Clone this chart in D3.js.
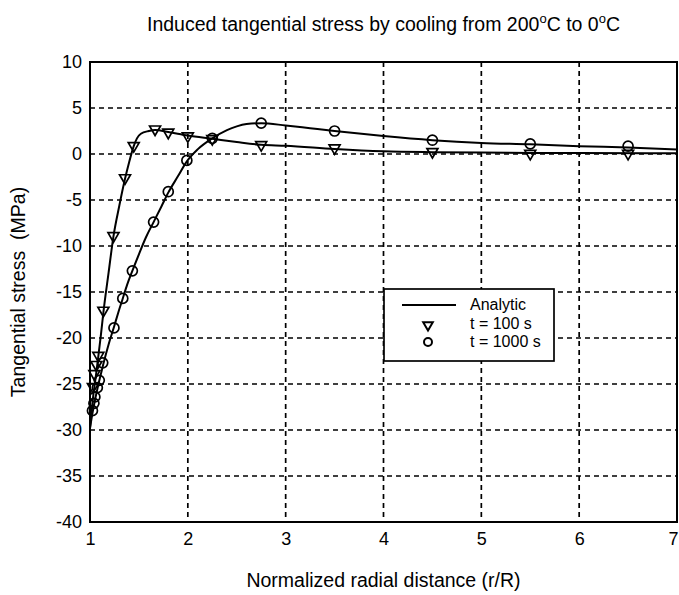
<!DOCTYPE html>
<html>
<head>
<meta charset="utf-8">
<script src="https://cdn.jsdelivr.net/npm/d3@7"></script>
<style>
  body { margin: 0; background: #fff; }
  svg text { font-family: "Liberation Sans", Arial, sans-serif; fill: #000; }
</style>
</head>
<body>
<div id="chart"></div>
<script>
// tick values
var x_ticks = [1, 2, 3, 4, 5, 6, 7];
var y_ticks = [10, 5, 0, -5, -10, -15, -20, -25, -30, -35, -40];

// analytic curves [r/R, MPa]
var analytic_100 = [
  [1.0, -29.8], [1.03, -26.6], [1.058, -24.3], [1.085, -22.0], [1.11, -19.8],
  [1.137, -17.2], [1.19, -12.9], [1.239, -9.0], [1.3, -5.6], [1.358, -2.7],
  [1.40, -0.9], [1.447, 0.85], [1.48, 1.7], [1.52, 2.2], [1.6, 2.5],
  [1.665, 2.62], [1.8, 2.4], [2.0, 2.0], [2.25, 1.65], [2.5, 1.3],
  [2.75, 1.0], [3.0, 0.9], [3.5, 0.55], [4.0, 0.3], [4.5, 0.2],
  [5.0, 0.15], [5.5, 0.12], [6.0, 0.1], [7.0, 0.08]
];
var analytic_1000 = [
  [1.0, -29.8], [1.025, -28.2], [1.05, -26.8], [1.078, -25.4], [1.1, -24.4],
  [1.137, -22.8], [1.19, -20.7], [1.245, -18.8], [1.29, -17.2], [1.335, -15.7],
  [1.38, -14.2], [1.433, -12.7], [1.5, -10.9], [1.57, -9.1], [1.65, -7.4],
  [1.73, -5.7], [1.8, -4.2], [1.9, -2.4], [1.99, -0.8], [2.1, 0.5],
  [2.25, 1.7], [2.4, 2.6], [2.5, 3.0], [2.6, 3.25], [2.75, 3.35],
  [3.0, 3.1], [3.25, 2.8], [3.5, 2.5], [4.0, 1.95], [4.5, 1.5],
  [5.0, 1.2], [5.5, 1.05], [6.0, 0.85], [6.5, 0.7], [7.0, 0.5]
];

// numerical results
var points_100 = [
  [1.03, -25.3], [1.045, -23.9], [1.065, -22.9], [1.085, -21.9], [1.137, -17.0],
  [1.24, -8.9], [1.358, -2.6], [1.447, 0.9], [1.665, 2.7], [1.8, 2.35],
  [2.0, 1.95], [2.25, 1.65], [2.75, 1.0], [3.5, 0.65], [4.5, 0.25],
  [5.5, 0.05], [6.5, 0.05]
];
var points_1000 = [
  [1.025, -27.9], [1.04, -27.1], [1.05, -26.4], [1.075, -25.4], [1.095, -24.6],
  [1.13, -22.7], [1.245, -18.9], [1.335, -15.7], [1.433, -12.7], [1.65, -7.4],
  [1.8, -4.1], [1.99, -0.7], [2.25, 1.7], [2.75, 3.35], [3.5, 2.5],
  [4.5, 1.5], [5.5, 1.1], [6.5, 0.85]
];

var width = 679, height = 595;
var margin = {top: 62, right: 2, bottom: 73, left: 90};
var plot_w = width - margin.left - margin.right;
var plot_h = height - margin.top - margin.bottom;

var svg = d3.select('#chart').append('svg')
    .attr('width', width)
    .attr('height', height);

var x = d3.scaleLinear().domain([1, 7]).range([0, plot_w]);
var y = d3.scaleLinear().domain([-40, 10]).range([plot_h, 0]);

var g = svg.append('g')
    .attr('transform', 'translate(' + margin.left + ',' + margin.top + ')');

// grid
g.append('g').selectAll('line.vgrid')
    .data(x_ticks.slice(1, -1))
    .enter().append('line')
    .attr('x1', function(d) { return x(d); })
    .attr('x2', function(d) { return x(d); })
    .attr('y1', 0).attr('y2', plot_h)
    .attr('stroke', '#000').attr('stroke-width', 1.7)
    .attr('stroke-dasharray', '5,4');

g.append('g').selectAll('line.hgrid')
    .data(y_ticks.slice(1, -1))
    .enter().append('line')
    .attr('y1', function(d) { return y(d); })
    .attr('y2', function(d) { return y(d); })
    .attr('x1', 0).attr('x2', plot_w)
    .attr('stroke', '#000').attr('stroke-width', 1.7)
    .attr('stroke-dasharray', '5,4');

// axes (plain hyphen for negatives, like the original)
var plain = function(d) { return String(d); };
var x_axis = g.append('g')
    .attr('transform', 'translate(0,' + plot_h + ')')
    .call(d3.axisBottom(x).tickValues(x_ticks).tickFormat(plain)
        .tickSize(0).tickPadding(10));
var y_axis = g.append('g')
    .call(d3.axisLeft(y).tickValues(y_ticks).tickFormat(plain)
        .tickSize(0).tickPadding(8));

[x_axis, y_axis].forEach(function(a) {
    a.select('.domain').remove();
    a.selectAll('text').style('font-size', '18px')
        .attr('font-family', '"Liberation Sans", Arial, sans-serif');
});
// the last x label sits on the right edge of the window
x_axis.selectAll('text').filter(function(d) { return d === 7; })
    .attr('dx', -4);

// box
g.append('rect')
    .attr('x', 0).attr('y', 0)
    .attr('width', plot_w).attr('height', plot_h)
    .attr('fill', 'none').attr('stroke', '#000').attr('stroke-width', 2);

// analytic lines
var line = d3.line()
    .x(function(d) { return x(d[0]); })
    .y(function(d) { return y(d[1]); })
    .curve(d3.curveMonotoneX);

[analytic_100, analytic_1000].forEach(function(s) {
    g.append('path')
        .datum(s)
        .attr('d', line)
        .attr('fill', 'none')
        .attr('stroke', '#000')
        .attr('stroke-width', 2);
});

// markers
var tri = d3.symbol().type(d3.symbolTriangle).size(52);

g.append('g').selectAll('path.tri')
    .data(points_100)
    .enter().append('path')
    .attr('d', tri)
    .attr('transform', function(d) {
        return 'translate(' + x(d[0]) + ',' + y(d[1]) + ') rotate(180)';
    })
    .attr('fill', 'none').attr('stroke', '#000').attr('stroke-width', 1.7);

g.append('g').selectAll('circle.pt')
    .data(points_1000)
    .enter().append('circle')
    .attr('cx', function(d) { return x(d[0]); })
    .attr('cy', function(d) { return y(d[1]); })
    .attr('r', 5)
    .attr('fill', 'none').attr('stroke', '#000').attr('stroke-width', 1.7);

// legend
var lg = svg.append('g').attr('transform', 'translate(384,289)');
lg.append('rect')
    .attr('width', 170).attr('height', 72)
    .attr('fill', '#fff').attr('stroke', '#000').attr('stroke-width', 1.7);
lg.append('line')
    .attr('x1', 18).attr('x2', 72).attr('y1', 16).attr('y2', 16)
    .attr('stroke', '#000').attr('stroke-width', 2);
lg.append('path')
    .attr('d', d3.symbol().type(d3.symbolTriangle).size(40))
    .attr('transform', 'translate(44,36) rotate(180)')
    .attr('fill', 'none').attr('stroke', '#000').attr('stroke-width', 2);
lg.append('circle')
    .attr('cx', 44).attr('cy', 53).attr('r', 4)
    .attr('fill', 'none').attr('stroke', '#000').attr('stroke-width', 2);
var legend_labels = ['Analytic', 't = 100 s', 't = 1000 s'];
lg.selectAll('text.lab')
    .data(legend_labels)
    .enter().append('text')
    .attr('x', 86)
    .attr('y', function(d, i) { return 21 + i * 18.5; })
    .style('font-size', '16px')
    .text(function(d) { return d; });

// title
var title = svg.append('text')
    .attr('x', margin.left + plot_w / 2)
    .attr('y', 31)
    .attr('text-anchor', 'middle')
    .style('font-size', '19.5px');
title.append('tspan').text('Induced tangential stress by cooling from 200');
title.append('tspan').attr('dy', -8).style('font-size', '13px').text('o');
title.append('tspan').attr('dy', 8).text('C to 0');
title.append('tspan').attr('dy', -8).style('font-size', '13px').text('o');
title.append('tspan').attr('dy', 8).text('C');

// axis labels
svg.append('text')
    .attr('x', margin.left + plot_w / 2)
    .attr('y', 587)
    .attr('text-anchor', 'middle')
    .style('font-size', '19.5px')
    .text('Normalized radial distance (r/R)');

svg.append('text')
    .attr('transform', 'translate(25,' + (margin.top + plot_h / 2) + ') rotate(-90)')
    .attr('text-anchor', 'middle')
    .style('font-size', '19.5px')
    .style('white-space', 'pre')
    .attr('xml:space', 'preserve')
    .text('Tangential stress  (MPa)');
</script>
</body>
</html>
